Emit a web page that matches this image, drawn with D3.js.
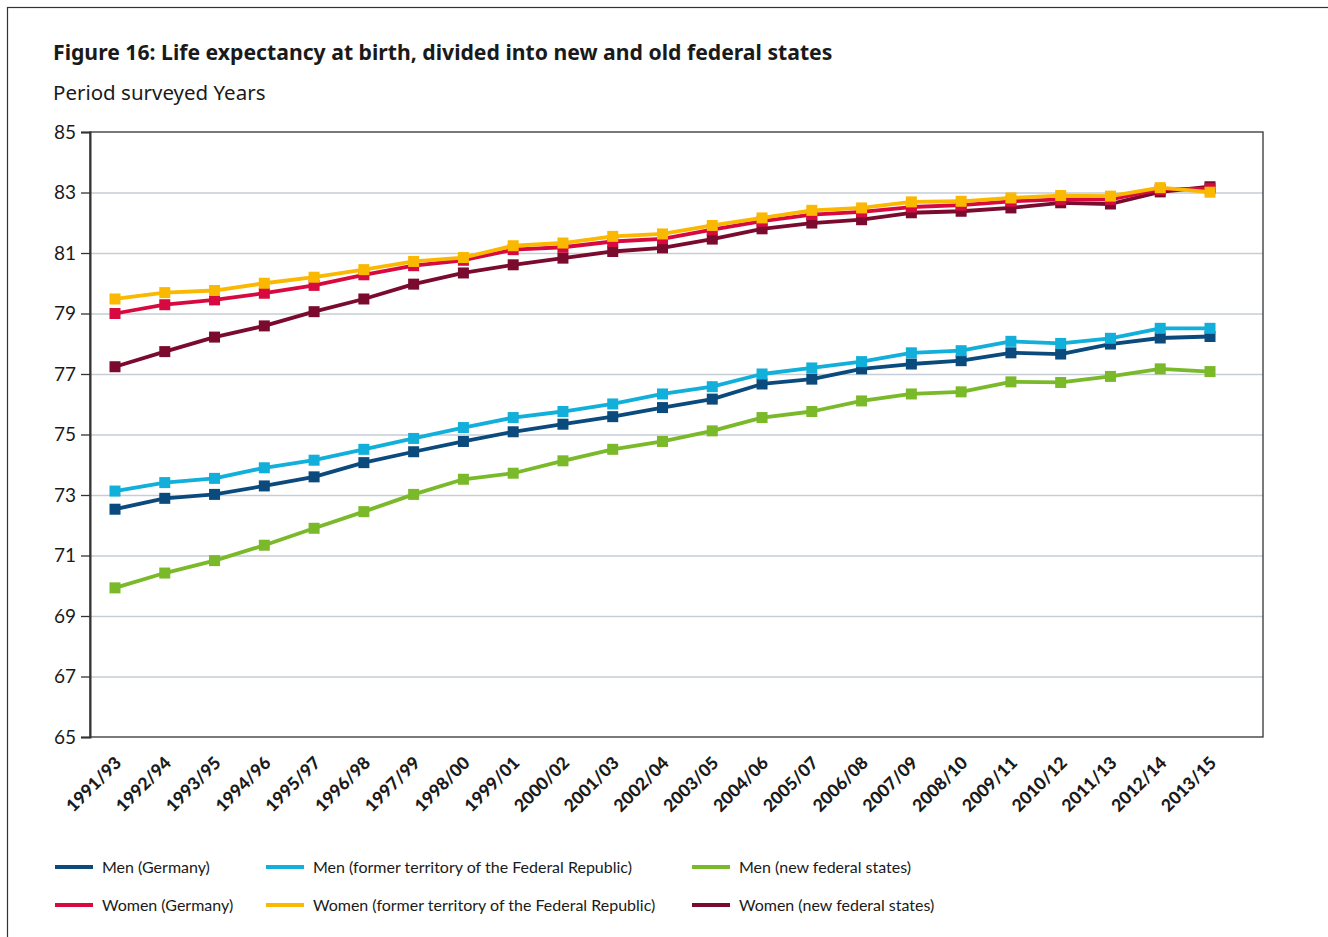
<!doctype html>
<html>
  <head>
    <meta charset="utf8">
    <script src="https://d3js.org/d3.v7.min.js"></script>
    <style type="text/css">
      body { margin: 0; background: #fff; font-family: 'Lato', sans-serif; }
      .grid line { stroke: #c6cdd4; stroke-width: 1.5; }
      .grid path { display: none; }
      .yaxis text { font-family: 'Lato', sans-serif; font-size: 19px; fill: #1a1a1a; }
      .xaxis text { font-family: 'Lato', sans-serif; font-size: 17.5px; font-weight: 900; fill: #1a1a1a; }
      .legend text { font-size: 16px; fill: #1a1a1a; }
    </style>
  </head>
  <body>
    <script type="text/javascript">
      const w = 1328;
      const h = 937;

      const categories = ['1991/93', '1992/94', '1993/95', '1994/96', '1995/97', '1996/98',
        '1997/99', '1998/00', '1999/01', '2000/02', '2001/03', '2002/04', '2003/05',
        '2004/06', '2005/07', '2006/08', '2007/09', '2008/10', '2009/11', '2010/12',
        '2011/13', '2012/14', '2013/15'];

      const yTicks = [65, 67, 69, 71, 73, 75, 77, 79, 81, 83, 85];

      // values
      const menGermany = [72.53, 72.89, 73.02, 73.30, 73.60, 74.07, 74.43, 74.77, 75.09, 75.34,
        75.59, 75.89, 76.17, 76.67, 76.83, 77.17, 77.33, 77.44, 77.70, 77.66, 77.99, 78.19, 78.24];
      const menFormer = [73.13, 73.41, 73.55, 73.90, 74.15, 74.51, 74.87, 75.23, 75.56, 75.76,
        76.01, 76.34, 76.58, 77.00, 77.20, 77.41, 77.70, 77.77, 78.08, 78.01, 78.18, 78.51, 78.51];
      const menNew = [69.93, 70.42, 70.83, 71.34, 71.90, 72.45, 73.02, 73.52, 73.72, 74.13,
        74.51, 74.77, 75.12, 75.56, 75.76, 76.11, 76.34, 76.41, 76.74, 76.72, 76.92, 77.17, 77.08];
      const womenGermany = [79.00, 79.29, 79.45, 79.67, 79.93, 80.28, 80.58, 80.76, 81.11, 81.19,
        81.38, 81.47, 81.77, 82.05, 82.27, 82.36, 82.52, 82.58, 82.71, 82.77, 82.77, 83.10, 83.13];
      const womenFormer = [79.48, 79.69, 79.76, 80.00, 80.20, 80.45, 80.72, 80.85, 81.24, 81.33,
        81.55, 81.63, 81.91, 82.16, 82.41, 82.49, 82.69, 82.71, 82.82, 82.90, 82.88, 83.16, 83.01];
      const womenNew = [77.24, 77.74, 78.22, 78.59, 79.06, 79.48, 79.97, 80.34, 80.61, 80.83,
        81.05, 81.17, 81.46, 81.80, 81.99, 82.10, 82.33, 82.38, 82.49, 82.66, 82.62, 83.02, 83.19];

      const series = [
        { name: 'Men (Germany)', values: menGermany, color: '#0b4a7c' },
        { name: 'Men (former territory of the Federal Republic)', values: menFormer, color: '#11afd9' },
        { name: 'Men (new federal states)', values: menNew, color: '#7ab929' },
        { name: 'Women (Germany)', values: womenGermany, color: '#d7093f' },
        { name: 'Women (former territory of the Federal Republic)', values: womenFormer, color: '#fbb800' },
        { name: 'Women (new federal states)', values: womenNew, color: '#7a0b2e' }
      ];
      // drawing order (last on top)
      const drawOrder = [2, 0, 1, 5, 3, 4];

      const plot = { left: 90, right: 1263, top: 132, bottom: 737 };

      const x = d3.scalePoint()
        .domain(categories)
        .range([115, 1210]);

      const y = d3.scaleLinear()
        .domain([65, 85])
        .range([plot.bottom, plot.top]);

      const svg = d3.select('body')
        .append('svg')
        .attr('width', w)
        .attr('height', h);

      // outer frame
      svg.append('rect')
        .attr('x', 7.5).attr('y', 7.5)
        .attr('width', 1400).attr('height', 1000)
        .attr('fill', 'none')
        .attr('stroke', '#333')
        .attr('stroke-width', 1.2);

      svg.append('text')
        .attr('x', 53).attr('y', 60)
        .attr('font-family', "'Noto Sans', sans-serif")
        .attr('font-size', '21.2px')
        .attr('font-weight', 'bold')
        .attr('fill', '#1a1a1a')
        .text('Figure 16: Life expectancy at birth, divided into new and old federal states');

      svg.append('text')
        .attr('x', 53).attr('y', 100)
        .attr('font-family', "'Noto Sans', sans-serif")
        .attr('font-size', '20.5px')
        .attr('fill', '#1a1a1a')
        .text('Period surveyed Years');

      // gridlines
      svg.append('g')
        .attr('class', 'grid')
        .attr('transform', `translate(${plot.left},0)`)
        .call(d3.axisLeft(y).tickValues(yTicks.slice(1, -1)).tickSize(-(plot.right - plot.left)).tickFormat(''));

      // plot box
      svg.append('rect')
        .attr('x', plot.left).attr('y', plot.top)
        .attr('width', plot.right - plot.left)
        .attr('height', plot.bottom - plot.top)
        .attr('fill', 'none')
        .attr('stroke', '#333')
        .attr('stroke-width', 1.3);

      const yAxis = svg.append('g')
        .attr('class', 'yaxis')
        .attr('transform', `translate(${plot.left},0)`)
        .call(d3.axisLeft(y).tickValues(yTicks).tickSize(9).tickPadding(5));
      yAxis.select('.domain').attr('stroke', '#333').attr('stroke-width', 2);
      yAxis.selectAll('line').attr('stroke', '#333').attr('stroke-width', 1.3);

      const xAxis = svg.append('g')
        .attr('class', 'xaxis')
        .attr('transform', `translate(0,${plot.bottom})`)
        .call(d3.axisBottom(x).tickSize(0));
      xAxis.select('.domain').remove();
      xAxis.selectAll('text')
        .attr('text-anchor', 'end')
        .attr('dy', '0')
        .attr('y', 0)
        .attr('transform', 'translate(7,27) rotate(-45)');

      const line = d3.line()
        .x((d, i) => x(categories[i]))
        .y((d) => y(d));

      drawOrder.forEach((k) => {
        const s = series[k];
        const g = svg.append('g');
        g.append('path')
          .datum(s.values)
          .attr('d', line)
          .attr('fill', 'none')
          .attr('stroke', s.color)
          .attr('stroke-width', 3.8)
          .attr('stroke-linejoin', 'round');
        g.selectAll('rect')
          .data(s.values)
          .enter()
          .append('rect')
          .attr('x', (d, i) => x(categories[i]) - 5.5)
          .attr('y', (d) => y(d) - 5.5)
          .attr('width', 11)
          .attr('height', 11)
          .attr('fill', s.color);
      });

      // legend
      const legendCols = [55, 266, 692];
      const legendRows = [867, 905];
      const legend = svg.append('g').attr('class', 'legend');
      series.forEach((s, i) => {
        const lx = legendCols[i % 3];
        const ly = legendRows[Math.floor(i / 3)];
        legend.append('line')
          .attr('x1', lx).attr('x2', lx + 38)
          .attr('y1', ly).attr('y2', ly)
          .attr('stroke', s.color)
          .attr('stroke-width', 4);
        legend.append('text')
          .attr('x', lx + 47).attr('y', ly + 5.5)
          .text(s.name);
      });
    </script>
  </body>
</html>
